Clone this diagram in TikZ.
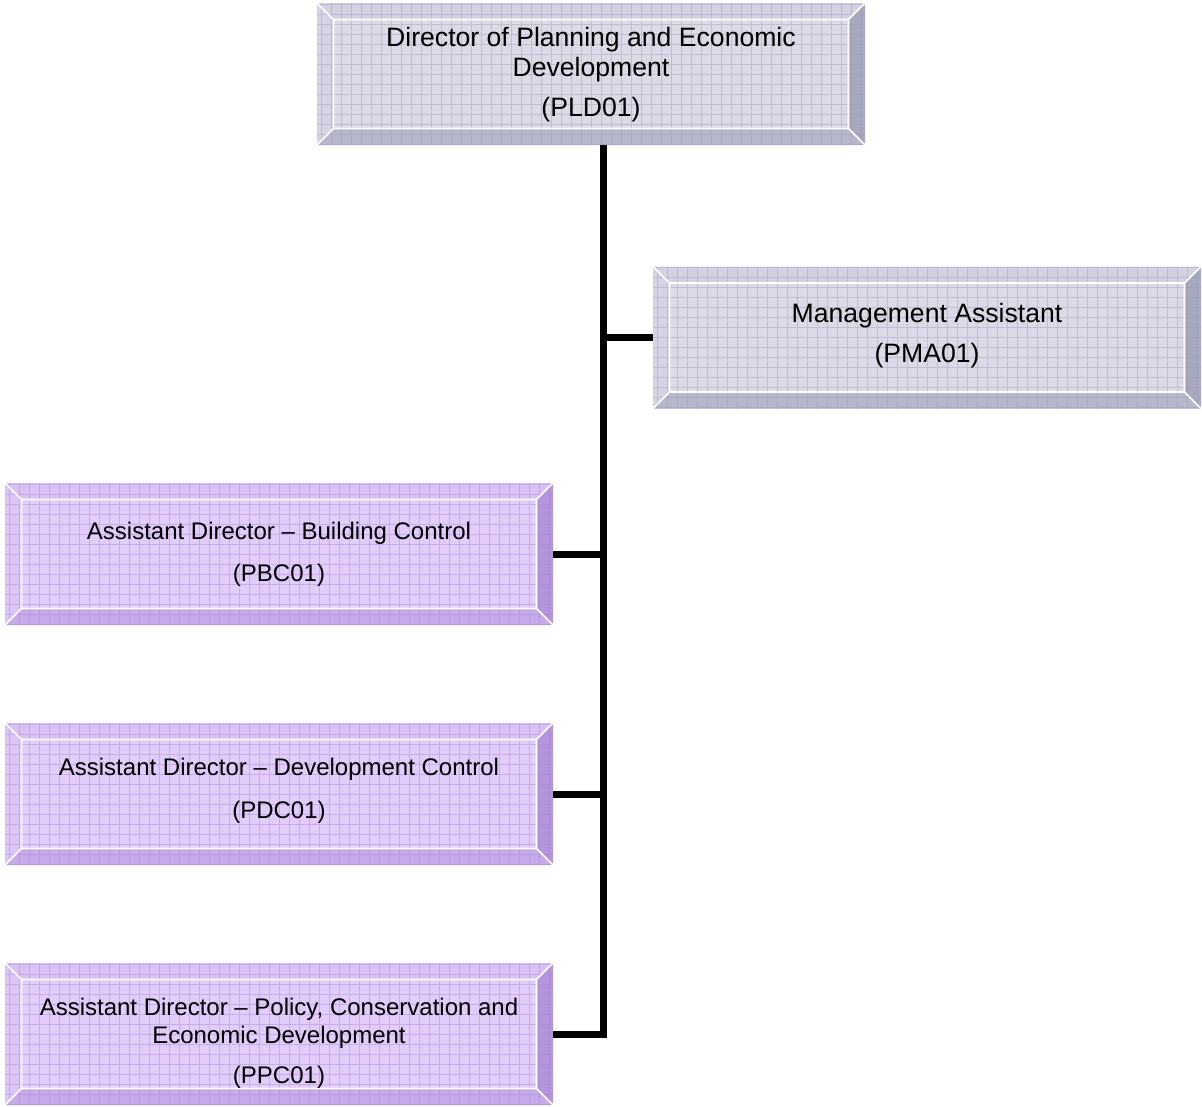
\documentclass[tikz,border=0pt]{standalone}
\usepackage{fontspec}
\setmainfont{Liberation Sans}
\usetikzlibrary{calc}

% bevel palettes
\colorlet{bvface}{white}\colorlet{bvtop}{white}\colorlet{bvleft}{white}
\colorlet{bvbot}{white}\colorlet{bvright}{white}\colorlet{bvgrid}{white}
\definecolor{gyface}{RGB}{219,219,231}
\definecolor{gytop}{RGB}{210,210,226}
\definecolor{gyleft}{RGB}{212,212,228}
\definecolor{gybot}{RGB}{184,184,204}
\definecolor{gyright}{RGB}{168,168,190}
\definecolor{gygrid}{RGB}{150,150,185}
\definecolor{ppface}{RGB}{226,204,250}
\definecolor{pptop}{RGB}{218,194,246}
\definecolor{ppleft}{RGB}{220,197,247}
\definecolor{ppbot}{RGB}{198,170,234}
\definecolor{ppright}{RGB}{180,150,220}
\definecolor{ppgrid}{RGB}{165,125,220}

\tikzset{
  orgbox/.style={rectangle, draw=none, inner sep=0pt,
    minimum width=548pt, minimum height=142pt,
    path picture={
      \coordinate (bvNW) at (path picture bounding box.north west);
      \coordinate (bvNE) at (path picture bounding box.north east);
      \coordinate (bvSW) at (path picture bounding box.south west);
      \coordinate (bvSE) at (path picture bounding box.south east);
      \coordinate (bvnw) at ([shift={(16.5pt,-16.5pt)}]bvNW);
      \coordinate (bvne) at ([shift={(-16.5pt,-16.5pt)}]bvNE);
      \coordinate (bvsw) at ([shift={(16.5pt,16.5pt)}]bvSW);
      \coordinate (bvse) at ([shift={(-16.5pt,16.5pt)}]bvSE);
      \fill[bvface] (bvNW) rectangle (bvSE);
      \fill[bvtop] (bvNW) -- (bvNE) -- (bvne) -- (bvnw) -- cycle;
      \fill[bvleft] (bvNW) -- (bvnw) -- (bvsw) -- (bvSW) -- cycle;
      \fill[bvbot] (bvSW) -- (bvsw) -- (bvse) -- (bvSE) -- cycle;
      \fill[bvright] (bvNE) -- (bvSE) -- (bvse) -- (bvne) -- cycle;
      \draw[bvgrid, opacity=0.4, line width=0.8pt, step=10pt] (bvSW) grid (bvNE);
      \draw[white, line width=1.6pt] (bvnw) rectangle (bvse)
        (bvNW) -- (bvnw) (bvNE) -- (bvne) (bvSW) -- (bvsw) (bvSE) -- (bvse);
    }},
  graybox/.style={orgbox, /utils/exec={%
    \colorlet{bvface}{gyface}\colorlet{bvtop}{gytop}\colorlet{bvleft}{gyleft}%
    \colorlet{bvbot}{gybot}\colorlet{bvright}{gyright}\colorlet{bvgrid}{gygrid}}},
  purplebox/.style={orgbox, /utils/exec={%
    \colorlet{bvface}{ppface}\colorlet{bvtop}{pptop}\colorlet{bvleft}{ppleft}%
    \colorlet{bvbot}{ppbot}\colorlet{bvright}{ppright}\colorlet{bvgrid}{ppgrid}}},
  lbl/.style={inner sep=0pt, align=center, text=black,
    font=\fontsize{26.6}{30}\selectfont},
  smalllbl/.style={lbl, font=\fontsize{24}{28}\selectfont},
  conn/.style={draw=black, line width=7pt, line join=miter}
}

\begin{document}
\begin{tikzpicture}[x=1pt, y=-1pt]
  \useasboundingbox (0,0) rectangle (1202,1106);

  % posts
  \node[graybox]   (pld) at (591,74)    {};
  \node[graybox]   (pma) at (927,337.5) {};
  \node[purplebox] (pbc) at (279,554)   {};
  \node[purplebox] (pdc) at (279,794)   {};
  \node[purplebox] (ppc) at (279,1034)  {};

  % titles
  \node[lbl] (pld-t) at (591,74.4)
    {Director of Planning and Economic\\Development\\[10pt](PLD01)};
  \node[lbl] (pma-t) at (927,335.4) {Management Assistant\\[10pt](PMA01)};
  \node[smalllbl] (pbc-t) at (279,554.5)
    {Assistant Director – Building Control\\[14pt](PBC01)};
  \node[smalllbl] (pdc-t) at (279,791)
    {Assistant Director – Development Control\\[15pt](PDC01)};
  \node[smalllbl] (ppc-t) at (279,1043.5)
    {Assistant Director – Policy, Conservation and\\Economic Development\\[12pt](PPC01)};

  % reporting lines
  \coordinate (trunk) at (603,0);
  \draw[conn] (pld.south -| trunk) |- (ppc.east);
  \draw[conn] (trunk |- pma.west) -- (pma.west);
  \draw[conn] (trunk |- pbc.east) -- (pbc.east);
  \draw[conn] (trunk |- pdc.east) -- (pdc.east);
\end{tikzpicture}
\end{document}
